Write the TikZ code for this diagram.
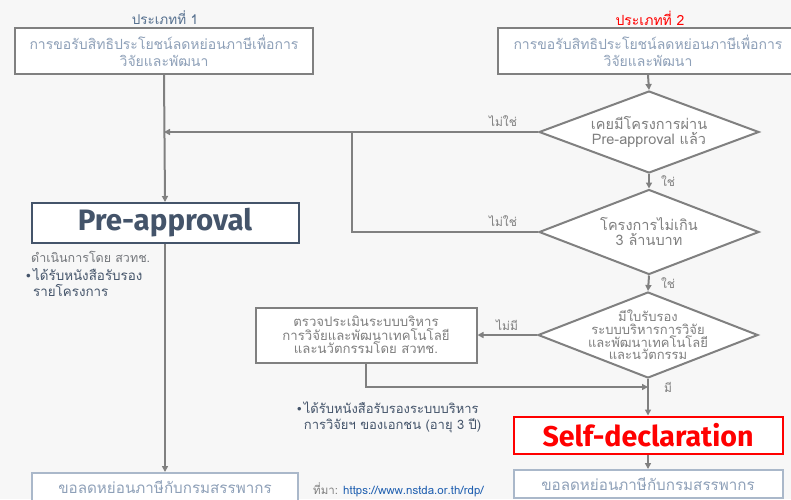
\documentclass[tikz,border=0pt]{standalone}
\usepackage{fontspec}
\setmainfont{Liberation Sans}
\newfontfamily\thai[Script=Thai]{Loma}
\newfontfamily\lat{Fira Sans}
\usetikzlibrary{shapes.geometric,arrows.meta}
\definecolor{bg}{HTML}{F7F7F7}
\definecolor{linegray}{HTML}{808080}
\definecolor{txtgray}{HTML}{7F7F7F}
\definecolor{lightblue}{HTML}{8EA0B8}
\definecolor{paleborder}{HTML}{AAB8CA}
\definecolor{navy}{HTML}{44546A}
\definecolor{midblue}{HTML}{56708F}
\definecolor{linkblue}{HTML}{1F5FB0}
\definecolor{redc}{HTML}{FF0000}
\begin{document}
\begin{tikzpicture}[x=1pt,y=-1pt,
  topbox/.style={draw=linegray, line width=2pt, fill=white, align=center,
    minimum height=46pt, inner sep=0pt, text=lightblue,
    font=\thai\fontsize{14}{16.5}\selectfont},
  endbox/.style={draw=paleborder, line width=2pt, fill=white, align=center,
    minimum height=28pt, inner sep=0pt, text=lightblue,
    font=\thai\fontsize{15.2}{17}\selectfont},
  dia/.style={draw=linegray, line width=2pt, fill=white, shape=diamond,
    inner sep=0pt, minimum width=220pt},
  diatext/.style={align=center, text=txtgray, inner sep=0pt},
  lab/.style={text=txtgray, inner sep=0pt, font=\thai\fontsize{12}{13}\selectfont},
  conn/.style={draw=linegray, line width=2pt},
  arr/.style={conn, -{Triangle[length=6pt,width=6pt]}},
  note/.style={text=navy, inner sep=0pt, align=left}
]
\useasboundingbox (0,0) rectangle (791,499);
\clip (0,0) rectangle (791,499);
\fill[bg] (0,0) rectangle (791,499);

% headers
\node[text=midblue, font=\thai\fontsize{13.5}{15}\selectfont] (h1) at (165,18) {ประเภทที่ 1};
\node[text=redc, font=\thai\fontsize{14}{15}\selectfont] (h2) at (650,18) {ประเภทที่ 2};

% top boxes
\node[topbox, minimum width=298pt] (b1) at (164,51) {การขอรับสิทธิประโยชน์ลดหย่อนภาษีเพื่อการ\\วิจัยและพัฒนา};
\node[topbox, minimum width=300pt] (b2) at (648,51) {การขอรับสิทธิประโยชน์ลดหย่อนภาษีเพื่อการ\\วิจัยและพัฒนา};

% pre-approval
\node[draw=navy, line width=2pt, fill=white, minimum width=267pt, minimum height=40pt, inner sep=0pt,
  text=navy, font=\lat\bfseries\fontsize{29.5}{30}\selectfont] (pa) at (165,223) {Pre-approval};
\node[anchor=west, text=txtgray!80!navy, inner sep=0pt, font=\thai\fontsize{12.5}{14}\selectfont] (pby) at (31,257) {ดำเนินการโดย สวทช.};
\node[note, anchor=north west, font=\thai\fontsize{13.4}{16.5}\selectfont] (pnote) at (26,268) {{\rmfamily •}\,ได้รับหนังสือรับรอง\\\hphantom{{\rmfamily •}\,}รายโครงการ};

% diamonds
\node[dia, minimum height=82pt] (d1) at (649,132) {};
\node[diatext, font=\thai\fontsize{14.5}{15}\selectfont] (d1t) at (d1) {เคยมีโครงการผ่าน\\Pre-approval แล้ว};
\node[dia, minimum height=85pt] (d2) at (649,232) {};
\node[diatext, font=\thai\fontsize{14.5}{15}\selectfont] (d2t) at (d2) {โครงการไม่เกิน\\3 ล้านบาท};
\node[dia, minimum height=86pt] (d3) at (648,335) {};
\node[diatext, font=\thai\fontsize{13}{12.7}\selectfont] (d3t) at (d3) {มีใบรับรอง\\ระบบบริหารการวิจัย\\และพัฒนาเทคโนโลยี\\และนวัตกรรม};

% check box
\node[draw=linegray, line width=2pt, fill=white, minimum width=221pt, minimum height=55pt, inner sep=0pt,
  align=center, text=txtgray, font=\thai\fontsize{13.2}{13.5}\selectfont] (chk) at (366,335)
  {ตรวจประเมินระบบบริหาร\\การวิจัยและพัฒนาเทคโนโลยี\\และนวัตกรรมโดย สวทช.};

% self declaration
\node[draw=redc, line width=2pt, fill=white, minimum width=269pt, minimum height=37pt, inner sep=0pt,
  text=redc, font=\lat\bfseries\fontsize{28.6}{29}\selectfont] (sd) at (648,435) {Self-declaration};
\node[note, anchor=north west, font=\thai\fontsize{13}{15.5}\selectfont] (snote) at (297,402) {{\rmfamily •}\,ได้รับหนังสือรับรองระบบบริหาร\\\hphantom{{\rmfamily •}\,}การวิจัยฯ ของเอกชน (อายุ 3 ปี)};

% end boxes
\node[endbox, minimum width=266pt, anchor=north] (e1) at (165,472) {ขอลดหย่อนภาษีกับกรมสรรพากร};
\node[endbox, minimum width=269pt, anchor=north] (e2) at (648,469) {ขอลดหย่อนภาษีกับกรมสรรพากร};

% source
\node[anchor=west, inner sep=0pt, font=\thai\fontsize{11.5}{12}\selectfont] (src) at (313,490)
  {\textcolor{txtgray}{ที่มา:} \textcolor{linkblue}{https://www.nstda.or.th/rdp/}};

% coordinates
\coordinate (jn) at (352,132);
\coordinate (mj) at (648,387);

% connectors
\draw[arr] (b1.south) -- (pa.north);
\draw[arr] (b2.south) -- (d1.north);
\draw[arr] (d1.west) -- (d1.west -| b1.south);
\draw[conn] (d2.west) -| (jn);
\draw[arr] (d1.south) -- (d2.north);
\draw[arr] (d2.south) -- (d3.north);
\draw[arr] (d3.west) -- (chk.east);
\draw[arr] (chk.south) |- (mj);
\draw[arr] (d3.south) -- (sd.north);
\draw[arr] (sd.south) -- (e2.north);
\draw[arr] (pa.south) -- (e1.north);

% labels
\node[lab] (l1) at (503,121) {ไม่ใช่};
\node[lab] (l2) at (503,221) {ไม่ใช่};
\node[lab] (l3) at (668,181) {ใช่};
\node[lab] (l4) at (668,283) {ใช่};
\node[lab] (l5) at (507,325) {ไม่มี};
\node[lab] (l6) at (668,387) {มี};
\end{tikzpicture}
\end{document}
